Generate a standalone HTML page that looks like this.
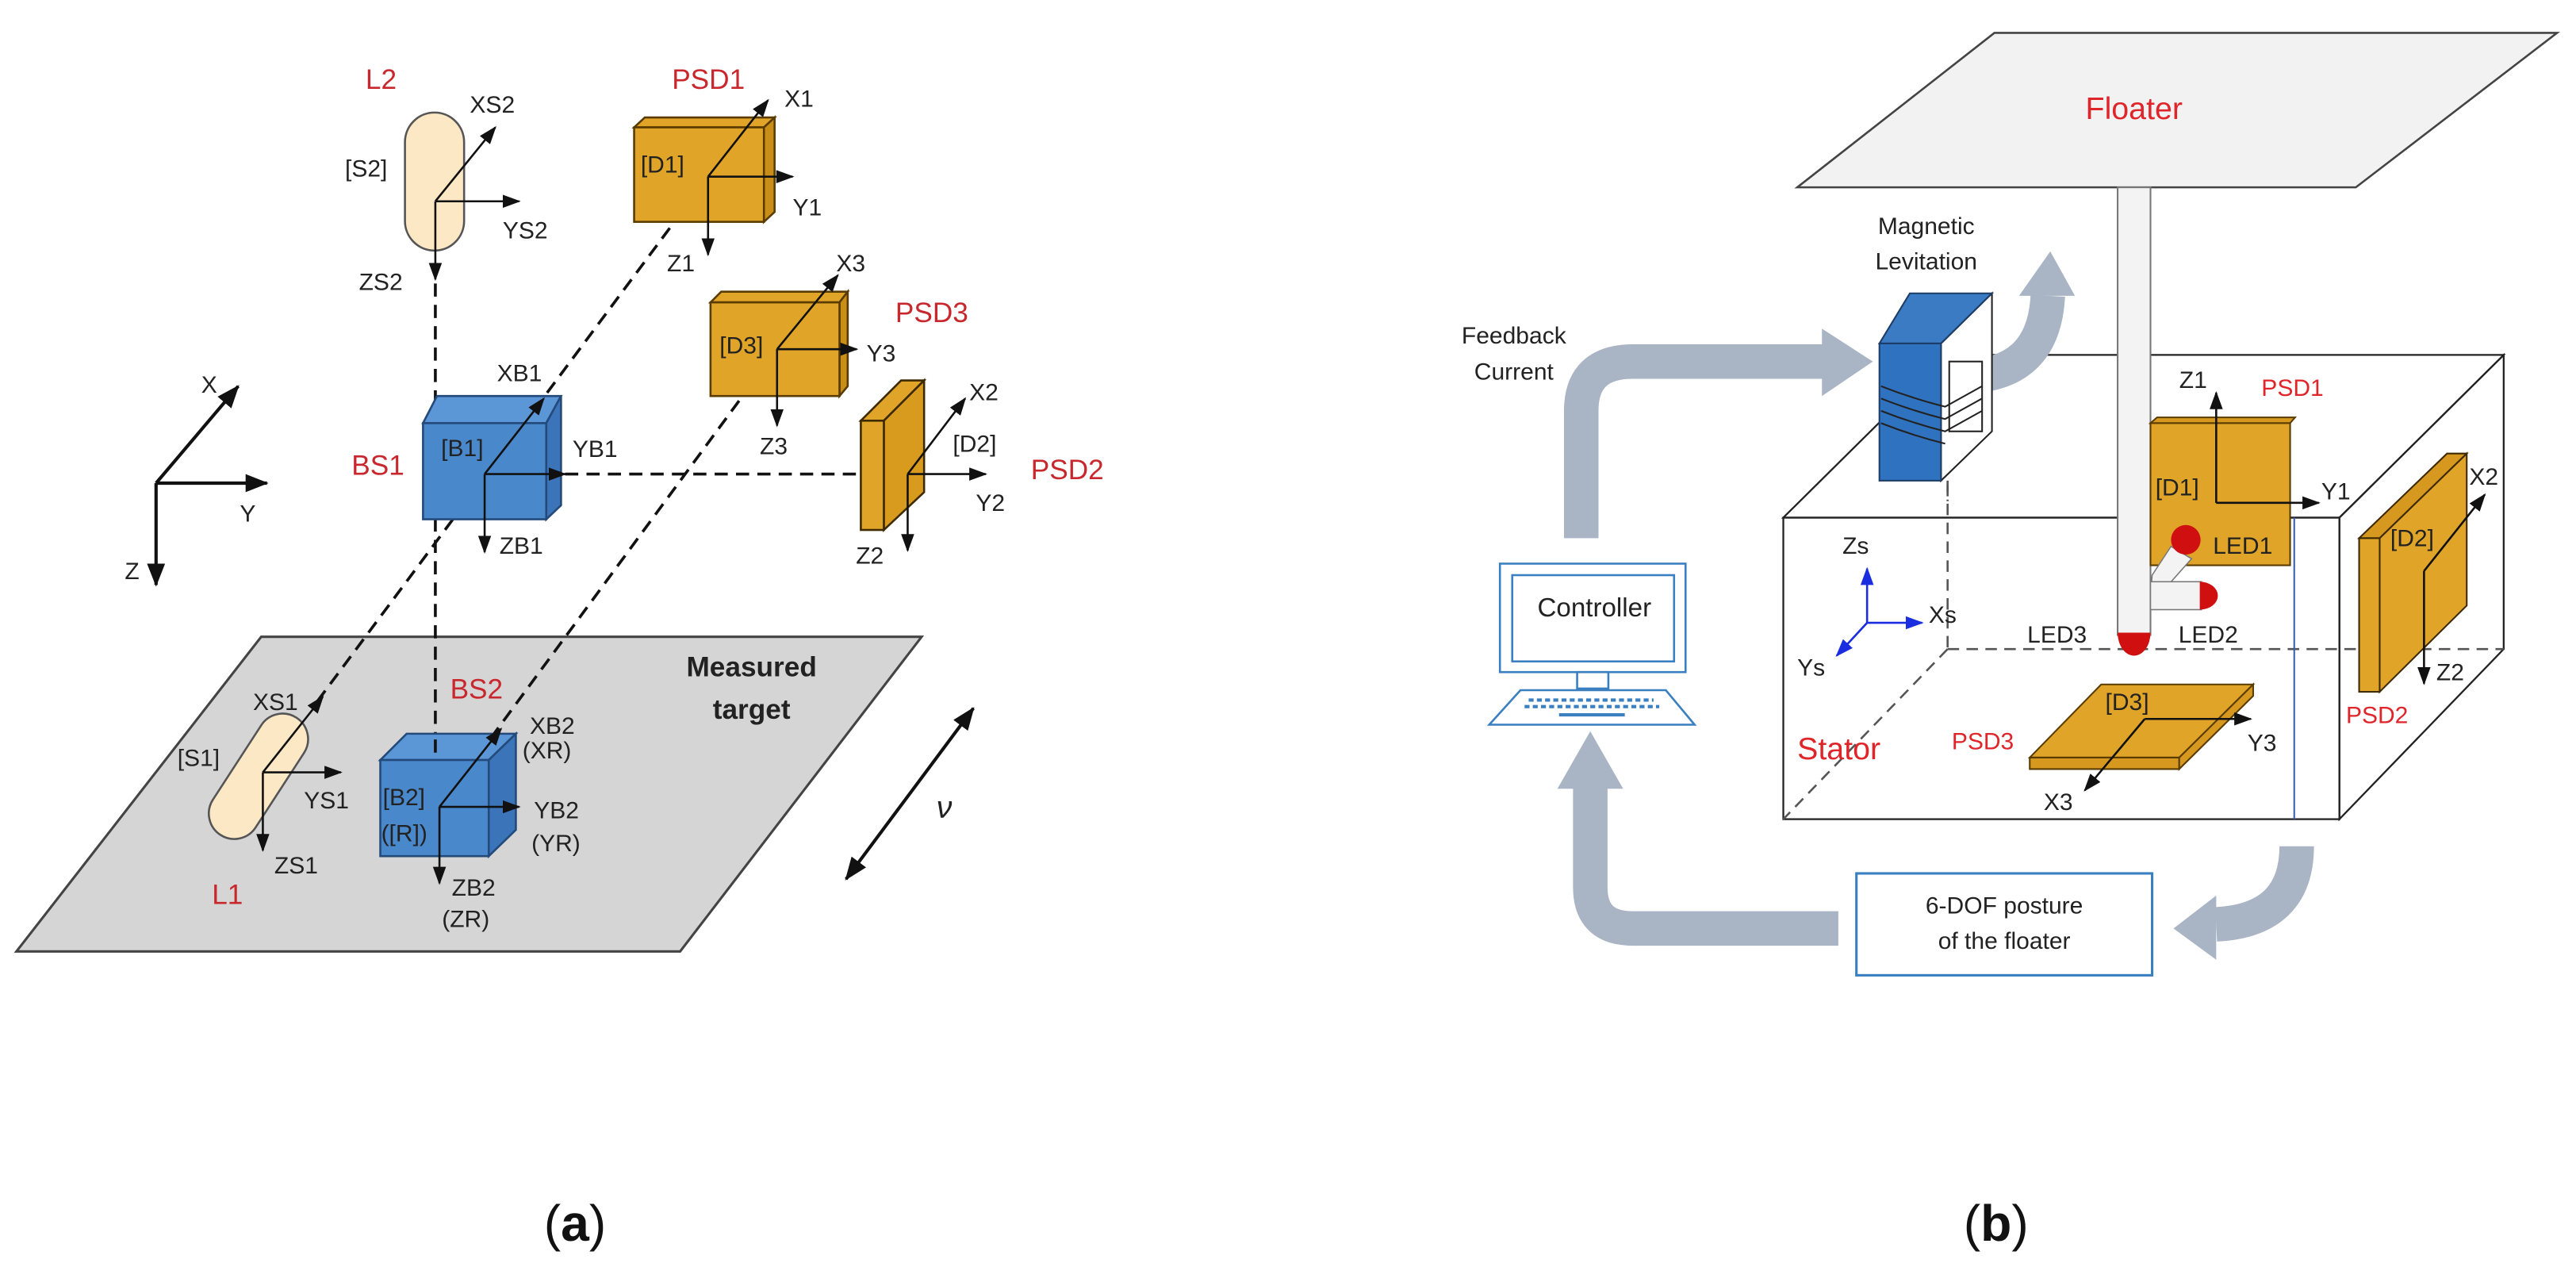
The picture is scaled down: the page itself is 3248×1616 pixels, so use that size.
<!DOCTYPE html>
<html><head><meta charset="utf-8"><style>
html,body{margin:0;padding:0;background:#fff;}
svg{display:block;}
text{font-family:"Liberation Sans",Arial,sans-serif;}
</style></head><body>
<svg width="3248" height="1616" viewBox="0 0 3248 1616" xmlns="http://www.w3.org/2000/svg">
<defs>
<marker id="ah" markerUnits="userSpaceOnUse" markerWidth="24" markerHeight="20" refX="20" refY="8" orient="auto"><path d="M0,0 L22,8 L0,16 Z" fill="#111"/></marker>
<marker id="ahb" markerUnits="userSpaceOnUse" markerWidth="24" markerHeight="20" refX="20" refY="8" orient="auto"><path d="M0,0 L22,8 L0,16 Z" fill="#1a2ee0"/></marker>
<marker id="ahs" markerUnits="userSpaceOnUse" markerWidth="30" markerHeight="26" refX="26" refY="11" orient="auto"><path d="M0,0 L28,11 L0,22 Z" fill="#111"/></marker>
<marker id="ahsr" markerUnits="userSpaceOnUse" markerWidth="30" markerHeight="26" refX="2" refY="11" orient="auto"><path d="M28,0 L0,11 L28,22 Z" fill="#111"/></marker>
</defs>

<!-- LEFT PANEL -->
<g transform="scale(1.0357)" font-size="29" fill="#222">
<polygon points="318,775 1122,775 828,1158 20,1158" fill="#d5d5d5" stroke="#444" stroke-width="3"/>
<text x="915" y="823" text-anchor="middle" font-weight="bold" font-size="34">Measured</text>
<text x="915" y="875" text-anchor="middle" font-weight="bold" font-size="34">target</text>

<g stroke="#111" stroke-width="3.5" stroke-dasharray="16,10" fill="none">
<line x1="530" y1="345" x2="530" y2="900"/>
<line x1="862" y1="215" x2="383" y2="858"/>
<line x1="946" y1="425" x2="600" y2="895"/>
<line x1="688" y1="577" x2="1048" y2="577"/>
</g>

<rect x="493" y="137" width="72" height="168" rx="36" fill="#fde8c6" stroke="#555" stroke-width="2.5"/>
<g stroke="#111" stroke-width="2.5">
<line x1="530" y1="245" x2="603" y2="155" marker-end="url(#ah)"/>
<line x1="530" y1="245" x2="632" y2="245" marker-end="url(#ah)"/>
<line x1="530" y1="245" x2="530" y2="340" marker-end="url(#ah)"/>
</g>
<text x="445" y="108" fill="#c8282d" font-size="34">L2</text>
<text x="572" y="137">XS2</text>
<text x="420" y="215">[S2]</text>
<text x="612" y="290">YS2</text>
<text x="437" y="353">ZS2</text>

<polygon points="772,155 785,143 943,143 930,155" fill="#e0a428" stroke="#5a3c00" stroke-width="2.5"/>
<polygon points="930,155 943,143 943,258 930,270" fill="#c98e18" stroke="#5a3c00" stroke-width="2.5"/>
<rect x="772" y="155" width="158" height="115" fill="#e0a428" stroke="#5a3c00" stroke-width="2.5"/>
<g stroke="#111" stroke-width="2.5">
<line x1="862" y1="215" x2="935" y2="122" marker-end="url(#ah)"/>
<line x1="862" y1="215" x2="965" y2="215" marker-end="url(#ah)"/>
<line x1="862" y1="215" x2="862" y2="310" marker-end="url(#ah)"/>
</g>
<text x="818" y="108" fill="#c8282d" font-size="34">PSD1</text>
<text x="955" y="130">X1</text>
<text x="780" y="210">[D1]</text>
<text x="965" y="262">Y1</text>
<text x="812" y="330">Z1</text>

<polygon points="865,368 878,355 1032,355 1022,368" fill="#e0a428" stroke="#5a3c00" stroke-width="2.5"/>
<polygon points="1022,368 1032,355 1032,470 1022,482" fill="#c98e18" stroke="#5a3c00" stroke-width="2.5"/>
<rect x="865" y="368" width="157" height="114" fill="#e0a428" stroke="#5a3c00" stroke-width="2.5"/>
<g stroke="#111" stroke-width="2.5">
<line x1="946" y1="425" x2="1020" y2="335" marker-end="url(#ah)"/>
<line x1="946" y1="425" x2="1043" y2="425" marker-end="url(#ah)"/>
<line x1="946" y1="425" x2="946" y2="518" marker-end="url(#ah)"/>
</g>
<text x="1090" y="392" fill="#c8282d" font-size="34">PSD3</text>
<text x="1018" y="330">X3</text>
<text x="876" y="430">[D3]</text>
<text x="1055" y="440">Y3</text>
<text x="925" y="553">Z3</text>

<polygon points="515,515 532,482 683,482 665,515" fill="#5b96d6" stroke="#234a7a" stroke-width="2.5"/>
<polygon points="665,515 683,482 683,615 665,632" fill="#3b74b8" stroke="#234a7a" stroke-width="2.5"/>
<rect x="515" y="515" width="150" height="117" fill="#4a88cc" stroke="#234a7a" stroke-width="2.5"/>
<g stroke="#111" stroke-width="2.5">
<line x1="590" y1="577" x2="662" y2="485" marker-end="url(#ah)"/>
<line x1="590" y1="577" x2="688" y2="577" marker-end="url(#ah)"/>
<line x1="590" y1="577" x2="590" y2="672" marker-end="url(#ah)"/>
</g>
<text x="428" y="578" fill="#c8282d" font-size="34">BS1</text>
<text x="605" y="464">XB1</text>
<text x="537" y="555">[B1]</text>
<text x="697" y="556">YB1</text>
<text x="608" y="674">ZB1</text>

<polygon points="1048,512 1097,463 1125,463 1076,512" fill="#e0a428" stroke="#3d2a00" stroke-width="2.5"/>
<polygon points="1076,512 1125,463 1125,599 1076,645" fill="#d99b1e" stroke="#3d2a00" stroke-width="2.5"/>
<rect x="1048" y="512" width="28" height="133" fill="#e0a428" stroke="#3d2a00" stroke-width="2.5"/>
<g stroke="#111" stroke-width="2.5">
<line x1="1105" y1="577" x2="1175" y2="485" marker-end="url(#ah)"/>
<line x1="1105" y1="577" x2="1200" y2="577" marker-end="url(#ah)"/>
<line x1="1105" y1="577" x2="1105" y2="670" marker-end="url(#ah)"/>
</g>
<text x="1255" y="583" fill="#c8282d" font-size="34">PSD2</text>
<text x="1180" y="487">X2</text>
<text x="1160" y="550">[D2]</text>
<text x="1188" y="622">Y2</text>
<text x="1042" y="686">Z2</text>

<g stroke="#111" stroke-width="4">
<line x1="190" y1="588" x2="290" y2="470" marker-end="url(#ahs)"/>
<line x1="190" y1="588" x2="325" y2="588" marker-end="url(#ahs)"/>
<line x1="190" y1="588" x2="190" y2="712" marker-end="url(#ahs)"/>
</g>
<text x="245" y="478">X</text>
<text x="292" y="635">Y</text>
<text x="152" y="705">Z</text>

<rect x="283" y="862" width="62" height="170" rx="31" fill="#fde8c6" stroke="#555" stroke-width="2.5" transform="rotate(33 318 947)"/>
<g stroke="#111" stroke-width="2.5">
<line x1="320" y1="940" x2="393" y2="848" marker-end="url(#ah)"/>
<line x1="320" y1="940" x2="415" y2="940" marker-end="url(#ah)"/>
<line x1="320" y1="940" x2="320" y2="1035" marker-end="url(#ah)"/>
</g>
<text x="308" y="864">XS1</text>
<text x="216" y="932">[S1]</text>
<text x="370" y="984">YS1</text>
<text x="334" y="1063">ZS1</text>
<text x="258" y="1100" fill="#c8282d" font-size="34">L1</text>

<polygon points="463,925 495,893 628,893 595,925" fill="#5b96d6" stroke="#234a7a" stroke-width="2.5"/>
<polygon points="595,925 628,893 628,1010 595,1042" fill="#3b74b8" stroke="#234a7a" stroke-width="2.5"/>
<rect x="463" y="925" width="132" height="117" fill="#4a88cc" stroke="#234a7a" stroke-width="2.5"/>
<line x1="530" y1="900" x2="530" y2="925" stroke="#111" stroke-width="3.5" stroke-dasharray="16,10"/>
<g stroke="#111" stroke-width="2.5">
<line x1="535" y1="982" x2="610" y2="887" marker-end="url(#ah)"/>
<line x1="535" y1="982" x2="632" y2="982" marker-end="url(#ah)"/>
<line x1="535" y1="982" x2="535" y2="1075" marker-end="url(#ah)"/>
</g>
<text x="548" y="850" fill="#c8282d" font-size="34">BS2</text>
<text x="645" y="893">XB2</text>
<text x="636" y="923">(XR)</text>
<text x="466" y="980">[B2]</text>
<text x="464" y="1024">([R])</text>
<text x="650" y="996">YB2</text>
<text x="647" y="1036">(YR)</text>
<text x="550" y="1090">ZB2</text>
<text x="538" y="1128">(ZR)</text>

<line x1="1030" y1="1070" x2="1185" y2="862" stroke="#111" stroke-width="4" marker-end="url(#ahs)" marker-start="url(#ahsr)"/>
<text x="1140" y="995" font-family="Liberation Serif,serif" font-style="italic" font-size="38">ν</text>

<text x="700" y="1510" text-anchor="middle" font-family="Liberation Serif,serif" font-size="62" fill="#111">(<tspan font-weight="bold">a</tspan>)</text>
</g>

<!-- RIGHT PANEL -->
<g transform="translate(1624,0) scale(1.0357)" font-size="29" fill="#222">
<polygon points="860,40 1545,40 1300,228 620,228" fill="#f2f2f2" stroke="#444" stroke-width="2.5"/>
<text x="1030" y="145" text-anchor="middle" fill="#e0252a" font-size="38">Floater</text>

<g fill="none" stroke="#222" stroke-width="2.2">
<polygon points="603,630 803,432 1480,432 1280,630"/>
<polygon points="1280,630 1480,432 1480,790 1280,997"/>
<rect x="603" y="630" width="677" height="367"/>
</g>
<g fill="none" stroke="#555" stroke-width="2.5" stroke-dasharray="14,9">
<line x1="803" y1="590" x2="803" y2="790"/>
<line x1="803" y1="790" x2="1480" y2="790"/>
<line x1="803" y1="790" x2="603" y2="997"/>
</g>
<line x1="1225" y1="630" x2="1225" y2="997" stroke="#3a5cb0" stroke-width="2"/>

<g fill="none" stroke="#a9b5c5" stroke-width="42">
<path d="M357,655 L357,500 Q357,440 420,440 L660,440"/>
<path d="M670,1130 L420,1130 Q368,1130 368,1080 L368,955"/>
<path d="M1228,1030 Q1228,1120 1130,1125"/>
<path d="M822,458 Q920,458 925,360"/>
</g>
<g fill="#a9b5c5">
<polygon points="650,400 712,440 650,482"/>
<polygon points="328,960 368,890 408,960"/>
<polygon points="1130,1090 1078,1130 1130,1168"/>
<polygon points="890,360 928,306 958,360"/>
</g>
<text x="275" y="418" text-anchor="middle">Feedback</text>
<text x="275" y="462" text-anchor="middle">Current</text>
<text x="777" y="285" text-anchor="middle">Magnetic</text>
<text x="777" y="328" text-anchor="middle">Levitation</text>

<polygon points="795,418 857,357 857,525 795,585" fill="#fff" stroke="#222" stroke-width="2"/>
<polygon points="720,418 757,357 857,357 795,418" fill="#3a7bc4" stroke="#1d3d66" stroke-width="2"/>
<rect x="720" y="418" width="75" height="167" fill="#2f73c0" stroke="#1d3d66" stroke-width="2"/>
<g fill="none" stroke="#222" stroke-width="2">
<path d="M722,470 Q760,485 800,495 L845,470"/>
<path d="M722,485 Q760,500 800,510 L845,485"/>
<path d="M722,500 Q760,515 800,525 L845,500"/>
<path d="M722,515 Q760,530 800,540"/>
<rect x="805" y="440" width="40" height="85"/>
</g>
<line x1="803" y1="585" x2="803" y2="610" stroke="#555" stroke-width="2.5" stroke-dasharray="14,9"/>

<rect x="1010" y="228" width="40" height="545" fill="#f3f3f3" stroke="#777" stroke-width="2"/>
<path d="M1010,770 L1050,770 A20,28 0 0 1 1010,770 Z" fill="#d01010"/>

<polygon points="1050,515 1058,508 1226,508 1220,515" fill="#d6981e" stroke="#5a3c00" stroke-width="2"/>
<rect x="1050" y="515" width="170" height="173" fill="#e0a428" stroke="#5a3c00" stroke-width="2"/>
<g stroke="#111" stroke-width="2.5">
<line x1="1130" y1="612" x2="1130" y2="478" marker-end="url(#ah)"/>
<line x1="1130" y1="612" x2="1255" y2="612" marker-end="url(#ah)"/>
</g>
<text x="1085" y="472">Z1</text>
<text x="1185" y="482" fill="#e0252a">PSD1</text>
<text x="1056" y="603">[D1]</text>
<text x="1258" y="608">Y1</text>
<text x="1126" y="674">LED1</text>

<polygon points="1052,700 1075,665 1100,680 1060,725 1050,725" fill="#f3f3f3" stroke="#777" stroke-width="1.5"/>
<circle cx="1093" cy="657" r="18" fill="#d01010"/>
<rect x="1050" y="708" width="62" height="34" fill="#f3f3f3" stroke="#777" stroke-width="1.5"/>
<path d="M1110,708 A22,17 0 0 1 1110,742 Z" fill="#d01010"/>
<text x="900" y="782">LED3</text>
<text x="1084" y="782">LED2</text>

<g stroke="#1a2ee0" stroke-width="2.5">
<line x1="705" y1="758" x2="705" y2="692" marker-end="url(#ahb)"/>
<line x1="705" y1="758" x2="772" y2="758" marker-end="url(#ahb)"/>
<line x1="705" y1="758" x2="668" y2="798" marker-end="url(#ahb)"/>
</g>
<text x="675" y="674">Zs</text>
<text x="780" y="758">Xs</text>
<text x="620" y="822">Ys</text>
<text x="620" y="924" fill="#e0252a" font-size="38">Stator</text>

<polygon points="903,922 990,833 1175,833 1085,922" fill="#e0a428" stroke="#5a3c00" stroke-width="2"/>
<polygon points="903,922 1085,922 1085,936 903,936" fill="#d6981e" stroke="#5a3c00" stroke-width="2"/>
<polygon points="1085,922 1175,833 1175,847 1085,936" fill="#d6981e" stroke="#5a3c00" stroke-width="2"/>
<g stroke="#111" stroke-width="2.5">
<line x1="1043" y1="875" x2="1172" y2="875" marker-end="url(#ah)"/>
<line x1="1043" y1="875" x2="970" y2="962" marker-end="url(#ah)"/>
</g>
<text x="995" y="864">[D3]</text>
<text x="808" y="912" fill="#e0252a">PSD3</text>
<text x="1168" y="914">Y3</text>
<text x="920" y="986">X3</text>

<!-- PSD2 -->
<polygon points="1304,655 1411,552 1435,552 1329,655" fill="#d6981e" stroke="#3d2a00" stroke-width="2"/>
<polygon points="1329,655 1435,552 1435,737 1329,842" fill="#e0a428" stroke="#3d2a00" stroke-width="2"/>
<rect x="1304" y="655" width="25" height="187" fill="#e0a428" stroke="#3d2a00" stroke-width="2"/>
<g stroke="#111" stroke-width="2.5">
<line x1="1383" y1="695" x2="1457" y2="602" marker-end="url(#ah)"/>
<line x1="1383" y1="695" x2="1383" y2="832" marker-end="url(#ah)"/>
</g>
<text x="1438" y="590">X2</text>
<text x="1342" y="665">[D2]</text>
<text x="1398" y="828">Z2</text>
<text x="1288" y="880" fill="#e0252a">PSD2</text>

<g fill="#fff" stroke="#3a7fc0" stroke-width="2.5">
<rect x="258" y="686" width="226" height="132"/>
<rect x="273" y="700" width="197" height="105"/>
<rect x="352" y="818" width="38" height="20"/>
<polygon points="283,840 460,840 495,882 245,882"/>
</g>
<g stroke="#3a7fc0" stroke-width="4" stroke-dasharray="6,4">
<line x1="293" y1="852" x2="445" y2="852"/>
<line x1="288" y1="860" x2="452" y2="860"/>
</g>
<line x1="330" y1="870" x2="410" y2="870" stroke="#3a7fc0" stroke-width="4"/>
<text x="373" y="750" text-anchor="middle" font-size="32">Controller</text>

<rect x="692" y="1063" width="360" height="124" fill="#fff" stroke="#3a7fc0" stroke-width="3"/>
<text x="872" y="1112" text-anchor="middle">6-DOF posture</text>
<text x="872" y="1155" text-anchor="middle">of the floater</text>

<text x="862" y="1510" text-anchor="middle" font-family="Liberation Serif,serif" font-size="62" fill="#111">(<tspan font-weight="bold">b</tspan>)</text>
</g>
</svg>
</body></html>
